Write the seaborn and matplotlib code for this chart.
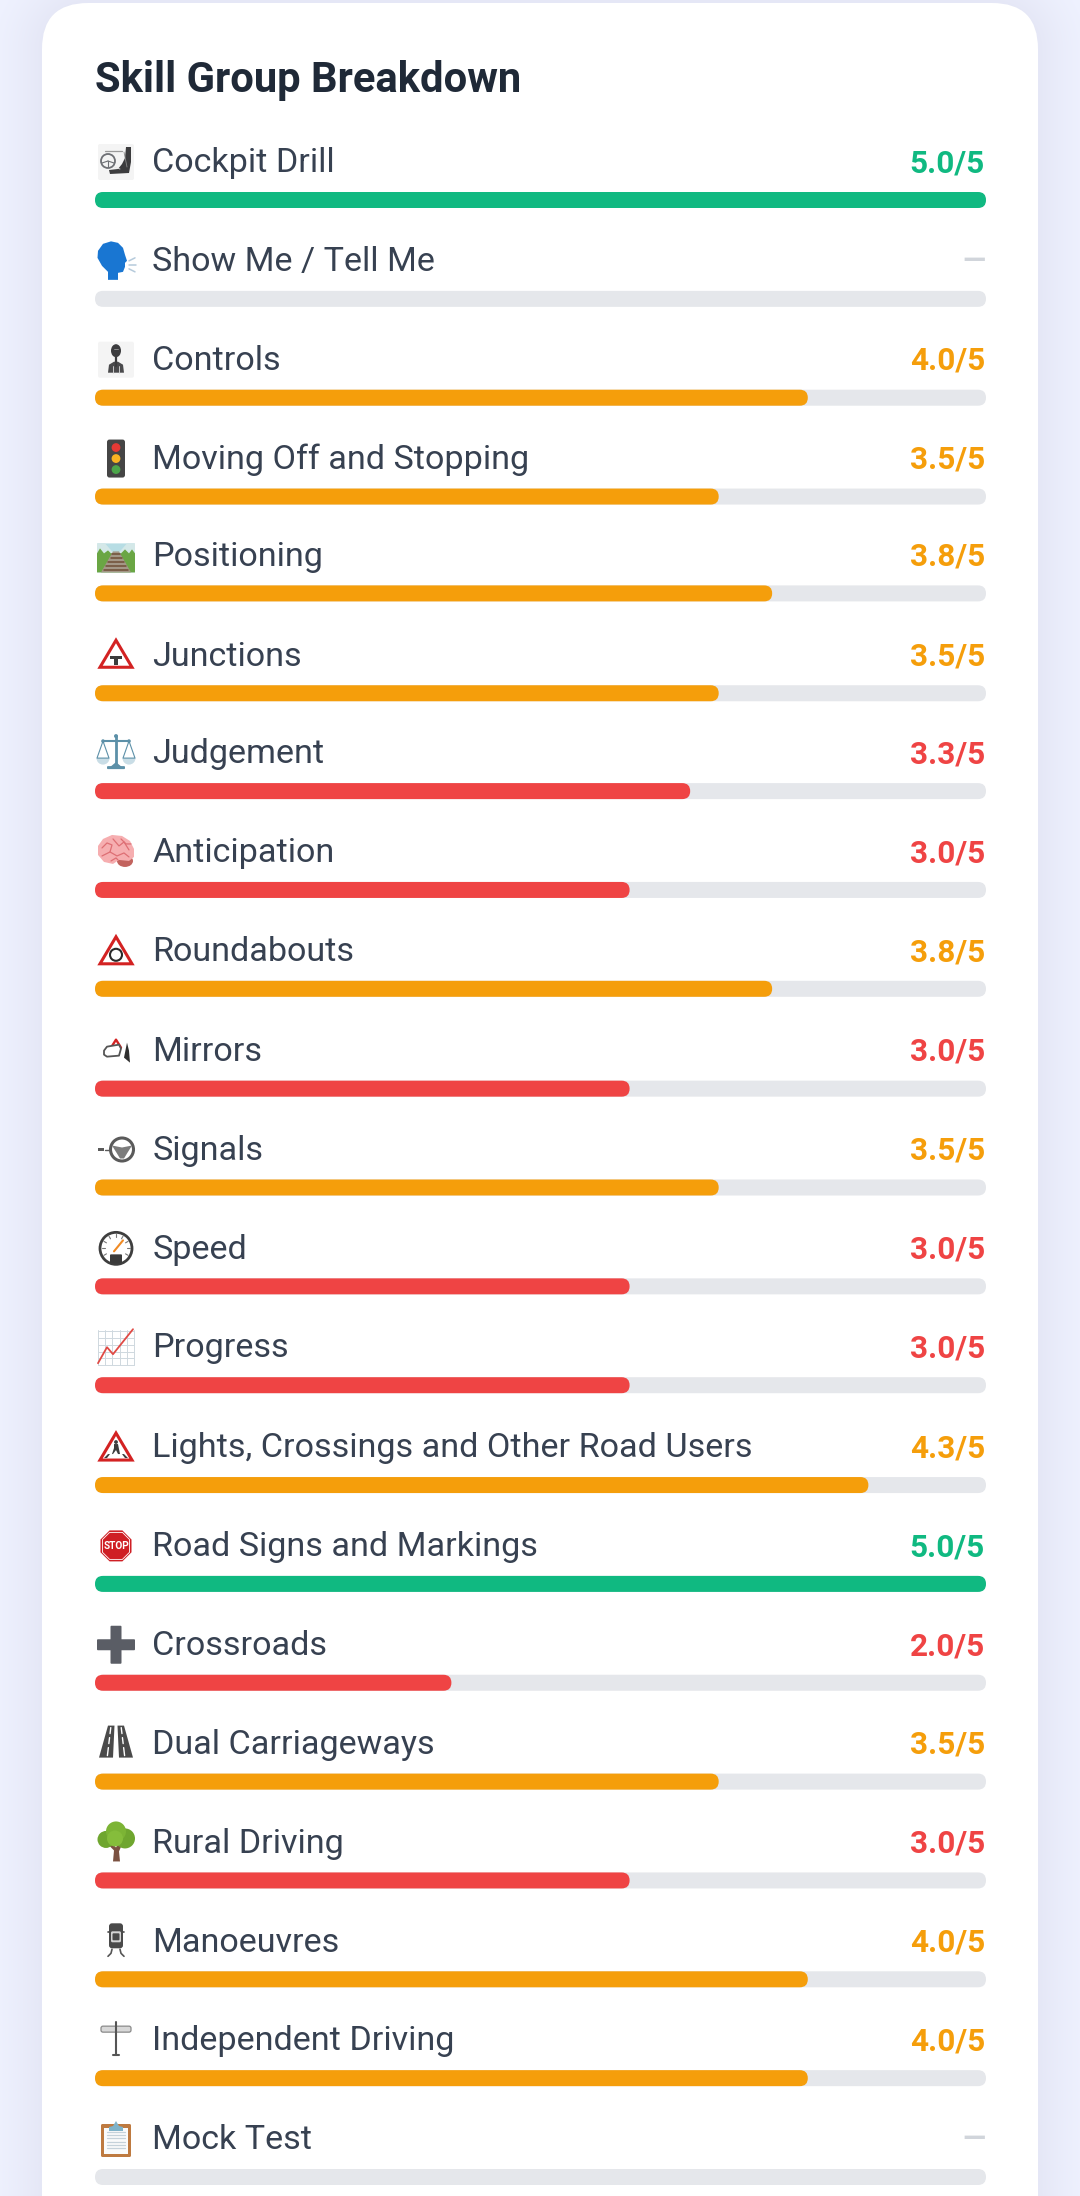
import numpy as np
import pandas as pd
import matplotlib
matplotlib.use("Agg")
import matplotlib.pyplot as plt
from matplotlib.patches import FancyBboxPatch, Polygon, Circle, Ellipse, Rectangle, Wedge
from matplotlib.transforms import Affine2D
import seaborn as sns

skills = ["Cockpit Drill", "Show Me / Tell Me", "Controls", "Moving Off and Stopping", "Positioning",
          "Junctions", "Judgement", "Anticipation", "Roundabouts", "Mirrors", "Signals", "Speed",
          "Progress", "Lights, Crossings and Other Road Users", "Road Signs and Markings", "Crossroads",
          "Dual Carriageways", "Rural Driving", "Manoeuvres", "Independent Driving", "Mock Test"]
scores = [5.0, None, 4.0, 3.5, 3.8, 3.5, 3.34, 3.0, 3.8, 3.0, 3.5, 3.0, 3.0, 4.34, 5.0, 2.0, 3.5, 3.0, 4.0, 4.0, None]
icons = ["cockpit", "head", "controls", "lights", "rail", "junction", "scales", "brain", "roundabout", "mirror",
         "signal", "speed", "progress", "crossing", "stop", "plus", "dual", "tree", "manoeuvre", "post", "clipboard"]
max_score = 5
title = "Skill Group Breakdown"
band_colors = {"high": "#10B981", "mid": "#F59E0B", "low": "#EF4444"}

W, H = 1080, 2196
TRACK, TITLE_C, LABEL_C, DASH_C = "#E5E7EB", "#1F2937", "#374151", "#D1D5DB"
L, R, Y0, Y1, BAR_H = 95, 986, 200, 2177, 16
CARD_L, CARD_R, CARD_T, CARD_RAD = 42, 1038, 3, 46
ROW_NUDGE = [0, 0, 0, 0, -2, -1, -2, -2, -2, -1, -1, -1, -1, 0, 0, 0, 0, 0, 0, 0, 0]


def band(s):
    if s is None or np.isnan(s):
        return None
    return "high" if s >= 4.5 else "mid" if s >= 3.5 else "low"


df = pd.DataFrame({"skill": skills, "score": pd.to_numeric(pd.Series(scores), errors="coerce")})
df["track"] = max_score
df["band"] = [band(s) for s in df["score"]]

sns.set_theme(style="white")
plt.rcParams["font.family"] = ["Roboto", "DejaVu Sans"]
fig = plt.figure(figsize=(W / 100, H / 100), dpi=100)

bg = fig.add_axes([0, 0, 1, 1], zorder=0)
bg.set_xlim(0, W); bg.set_ylim(H, 0); bg.axis("off")

# background with soft card shadow
yy, xx = np.mgrid[0:H, 0:W]
qx = np.maximum(np.maximum(CARD_L + CARD_RAD - xx, xx - (CARD_R - CARD_RAD)), 0)
qy = np.maximum(CARD_T + CARD_RAD - yy, 0)
dist = np.hypot(qx, qy) - CARD_RAD
t = np.clip(1 - np.clip(dist, 0, None) / 60, 0, 1) ** 1.5
c0, c1 = np.array([239, 242, 255]) / 255, np.array([229, 231, 246]) / 255
bg.imshow(c0 + (c1 - c0) * t[..., None], extent=(0, W, H, 0), aspect="auto", interpolation="nearest", zorder=0)
bg.set_xlim(0, W); bg.set_ylim(H, 0)
bg.add_patch(FancyBboxPatch((CARD_L + CARD_RAD, CARD_T + CARD_RAD), CARD_R - CARD_L - 2 * CARD_RAD, H,
                            boxstyle=f"round,pad={CARD_RAD},rounding_size={CARD_RAD}", fc="white", ec="none", zorder=1))

step = (Y1 - Y0) / (len(skills) - 1)
top, bottom = Y0 - step / 2, Y1 + step / 2
ax = fig.add_axes([L / W, 1 - bottom / H, (R - L) / W, (bottom - top) / H], zorder=2)
ax.patch.set_alpha(0)
bw = BAR_H / step
sns.barplot(data=df, y="skill", x="track", order=skills, color=TRACK, saturation=1, width=bw, ax=ax, zorder=1)
n_track = len(ax.patches)
sns.barplot(data=df.dropna(subset=["score"]), y="skill", x="score", order=skills, hue="band", palette=band_colors,
            saturation=1, width=bw, dodge=False, legend=False, ax=ax, zorder=2)
ax.set_xlim(0, max_score); ax.set_ylim(len(skills) - 0.5, -0.5)
ax.axis("off")

top_ax = fig.add_axes([0, 0, 1, 1], zorder=3)
top_ax.set_xlim(0, W); top_ax.set_ylim(H, 0); top_ax.axis("off")
fig.canvas.draw()
for i, b in enumerate(list(ax.patches)):
    if not b.get_width() or np.isnan(b.get_width()):
        b.remove(); continue
    row = int(round(b.get_y() + b.get_height() / 2))
    ext = b.get_window_extent()
    x0, x1 = ext.x0, ext.x1
    y0, y1 = H - ext.y1 + ROW_NUDGE[row], H - ext.y0 + ROW_NUDGE[row]
    r = (y1 - y0) / 2
    z = 1 if i < n_track else 2
    top_ax.add_patch(FancyBboxPatch((x0 + r, y0 + r), x1 - x0 - 2 * r, 0.001,
                                    boxstyle=f"round,pad={r},rounding_size={r}",
                                    fc=b.get_facecolor(), ec="none", zorder=z))
    b.set_visible(False)


def px(s):
    return s * 0.72


top_ax.text(95, 92.3, title, fontsize=px(41.8), fontweight="bold", color=TITLE_C, va="baseline", ha="left")


class Ic:
    """Small helper drawing a pictogram around a centre, in pixels."""
    def __init__(self, a, cx, cy):
        self.a, self.tr = a, Affine2D().translate(cx, cy) + a.transData
        self.cx, self.cy = cx, cy

    def add(self, p):
        p.set_transform(self.tr); p.set_zorder(5); self.a.add_patch(p); return p

    def poly(self, pts, c, ec="none", lw=0, fill=True, join="round"):
        return self.add(Polygon(pts, closed=True, fc=c if fill else "none", ec=ec, lw=lw, joinstyle=join))

    def circ(self, x, y, r, c="none", ec="none", lw=0):
        return self.add(Circle((x, y), r, fc=c, ec=ec, lw=lw))

    def ell(self, x, y, w, h, c="none", ec="none", lw=0, ang=0):
        return self.add(Ellipse((x, y), w, h, angle=ang, fc=c, ec=ec, lw=lw))

    def box(self, x0, y0, x1, y1, c, rad=0, ec="none", lw=0):
        if rad:
            return self.add(FancyBboxPatch((x0 + rad, y0 + rad), x1 - x0 - 2 * rad, y1 - y0 - 2 * rad,
                                           boxstyle=f"round,pad={rad},rounding_size={rad}", fc=c, ec=ec, lw=lw))
        return self.add(Rectangle((x0, y0), x1 - x0, y1 - y0, fc=c, ec=ec, lw=lw))

    def line(self, xs, ys, c, lw=1.0):
        l, = self.a.plot(xs, ys, color=c, lw=lw, transform=self.tr, zorder=6, solid_capstyle="round")
        return l

    def text(self, x, y, s, c, fs, **kw):
        self.a.text(self.cx + x, self.cy + y, s, color=c, fontsize=fs, ha="center", va="center", zorder=7, **kw)


DK, GR = "#3C3C3E", "#6E7075"


def warning(ic, dy=0):
    ic.poly([(0, -15 + dy), (16, 12 + dy), (-16, 12 + dy)], "white", ec="#D32222", lw=2.2, join="miter")


def draw_icon(kind, ic):
    if kind == "cockpit":
        ic.box(-18, -18, 18, 18, "#F4F4F4", rad=2)
        ic.circ(-8, -1, 7, ec=GR, lw=1.3)
        ic.line([-8, -14], [-1, 1], GR, .8); ic.line([-8, -2], [-1, 1], GR, .8); ic.line([-8, -8], [-1, 5], GR, .8)
        ic.line([-11, 6], [-11, -11], "#9A9A9A", .9)
        ic.poly([(10, -15), (15, -15), (15, 0), (13, 11), (-6, 12), (-7, 8), (2, 7), (6, 2), (9, -4)], DK)
        ic.line([-2, 4], [5, 7], "#E6E6E6", .6); ic.line([8, 11], [-10, 5], "#8A8A8A", .6)
    elif kind == "head":
        ic.poly([(-8, 19), (-8, 11), (-14, 5), (-18.5, -3), (-18, -10), (-13, -17), (-5, -19.5), (2, -18), (7, -13), (9, -6),
                 (11, 0), (9, 2), (9, 6), (7, 11), (2, 12), (2, 19)], "#1976D2")
        for (a, b) in [((13, 0), (19, -3)), ((13, 4), (20, 4)), ((13, 8), (19, 11))]:
            ic.line([a[0], b[0]], [a[1], b[1]], "#B5CADB", 1.1)
    elif kind == "controls":
        ic.box(-18, -18, 18, 18, "#F4F4F4", rad=2)
        ic.ell(0, -9, 10, 13, DK)
        ic.line([-2, 2], [-11, -11], "#9A9A9A", .6)
        ic.line([0, 0], [-3, 6], DK, 1.6)
        ic.poly([(-8, 13), (-7, 5), (-2, 2), (2, 2), (7, 5), (8, 13)], "#4A4A4C")
        ic.line([-3, -3], [6, 13], "#DDDDDD", .6); ic.line([3, 3], [6, 13], "#DDDDDD", .6)
    elif kind == "lights":
        ic.box(-9, -19, 9, 19, "#454545", rad=2.5)
        ic.circ(0, -11, 4.4, "#E53935"); ic.circ(0, 0, 4.4, "#F9B322"); ic.circ(0, 11, 4.4, "#4CA64A")
    elif kind == "rail":
        ic.box(-19, -15, 19, 14, "#B7DDE4", rad=1)
        ic.poly([(-19, -15), (-11, -15), (-3, -6), (3, -6), (11, -15), (19, -15), (19, 14), (-19, 14)], "#D4E8E8")
        ic.poly([(-19, -5), (-16, -10), (-12, -5), (-8, -8), (-5, -5), (5, -5), (9, -9), (13, -5), (16, -9), (19, -5),
                 (19, 14), (-19, 14)], "#6AA644")
        ic.poly([(-3, -7), (3, -7), (15, 14), (-15, 14)], "#A39787")
        for y, w in [(-4, 4), (0, 5.5), (4, 8), (8, 10), (12, 12)]:
            ic.line([-w, w], [y, y], "#6F4E37", 1.1)
    elif kind == "junction":
        warning(ic)
        ic.box(-6, 1, 6, 4, "#3C3C3C"); ic.box(-2, 3, 2, 10, "#3C3C3C")
    elif kind == "scales":
        T = "#5C90A8"
        ic.line([0, 0], [-17, 11], T, 2.0)
        ic.line([-13, 13], [-12, -12], T, 1.5)
        ic.circ(0, -17, 2, T); ic.circ(-13, -12, 1.8, T); ic.circ(13, -12, 1.8, T)
        ic.poly([(-6, 14), (0, 9), (6, 14)], T)
        ic.box(-9, 13, 9, 16, T, rad=1)
        for sx in (-13, 13):
            ic.line([sx, sx - 6, sx + 6, sx], [-12, 5, 5, -12], T, .8)
            ic.add(Wedge((sx, 5), 6.5, 0, 180, fc="#C9DDE6", ec="none"))
    elif kind == "brain":
        ic.ell(9, 9, 16, 12, "#C2635E")
        ic.poly([(-18, 3), (-18, -6), (-13, -13), (-4, -17), (6, -16), (14, -11), (18, -3), (18, 5), (13, 9), (3, 8),
                 (-3, 12), (-12, 10)], "#F6AEB0")
        for xs, ys_ in [([-14, -9, -4, -6], [-4, -9, -7, 0]), ([-3, 3, 8, 13], [-13, -6, -10, -2]),
                        ([-14, -6, 1, 8, 13], [4, 0, 4, 1, 5]), ([-5, 0, 2], [9, 6, 8]), ([5, 10, 15], [-13, -8, -8])]:
            ic.line(xs, ys_, "#DE6F74", .9)
    elif kind == "roundabout":
        warning(ic, dy=1)
        ic.circ(0, 4, 6, ec="#2A2A2A", lw=1.5)
    elif kind == "mirror":
        ic.poly([(-5, -3), (0, -11), (5, -3)], "none", ec="#D32222", lw=1.7, fill=False)
        ic.poly([(-12, 0), (-9, -4), (3, -6), (5, -2), (3, 5), (-9, 6), (-12, 4)], "white", ec="#555555", lw=1.3)
        ic.poly([(8, 7), (11, -8), (13, 0), (14, 12)], "#2E2E2E")
    elif kind == "signal":
        ic.circ(6, 0, 11.5, "white", ec="#5A5A5A", lw=2.2)
        ic.poly([(-4, -4), (6, -2), (16, -4), (11, 4), (8, 9), (4, 9), (1, 4)], "#7C7C7C")
        ic.box(-18, -2, -12, 1.5, "#5A5A5A"); ic.line([-11, -6], [0, 0], "#5A5A5A", 1.0)
    elif kind == "speed":
        ic.circ(0, 0, 16, "white", ec="#3E3E3E", lw=2.0)
        for a in np.deg2rad([150, 180, 210, 240, 270, 300, 330, 360, 390]):
            ic.line([11 * np.cos(a), 14 * np.cos(a)], [11 * np.sin(a), 14 * np.sin(a)], "#777777", .8)
        ic.line([-2, 7], [3, -8], "#F08A24", 1.5)
        ic.box(-6, 6, 6, 15, "#3A3A3A", rad=1)
    elif kind == "progress":
        ic.box(-18, -18, 18, 17, "white")
        for g in np.linspace(-18, 18, 6):
            ic.line([g, g], [-18, 17], "#CFD8DF", .7)
        for g in np.linspace(-17, 17, 6):
            ic.line([-18, 18], [g, g], "#CFD8DF", .7)
        ic.line([-18, -9, -3, 17], [15, -1, 6, -19], "#E04A45", 1.3)
    elif kind == "crossing":
        warning(ic, dy=1)
        ic.circ(0, -5, 1.9, "#3C3C3C")
        ic.poly([(-2, -3), (2, -3), (3, 2), (4, 7), (2, 7), (0, 3), (-3, 7), (-4, 7), (-2, 1)], "#3C3C3C")
        ic.poly([(-12, 11), (-8, 7), (-6, 7), (-9, 11)], "#3C3C3C")
        ic.poly([(12, 11), (8, 7), (6, 7), (9, 11)], "#3C3C3C")
    elif kind == "stop":
        a = 15.5; b = 6.4
        ic.poly([(-b, -a), (b, -a), (a, -b), (a, b), (b, a), (-b, a), (-a, b), (-a, -b)], "#CF1F25")
        ic.poly([(-b, -a + 2), (b, -a + 2), (a - 2, -b), (a - 2, b), (b, a - 2), (-b, a - 2), (-a + 2, b), (-a + 2, -b)],
                "none", ec="white", lw=.6, fill=False)
        ic.text(0, .3, "STOP", "white", 7.2, fontweight="bold", stretch="condensed")
    elif kind == "plus":
        G = "#5A5D65"
        ic.box(-5.5, -19, 5.5, 19, G, rad=1); ic.box(-19, -5.5, 19, 5.5, G, rad=1)
    elif kind == "dual":
        ic.poly([(-8, -18), (-1.5, -18), (-3, 14), (-17, 14)], "#4A4A4A")
        ic.poly([(8, -18), (1.5, -18), (3, 14), (17, 14)], "#4A4A4A")
        for s in (-1, 1):
            for y0_, y1_ in [(-16, -10), (-6, 0), (4, 12)]:
                ic.line([s * (5 + (y0_ + 18) * .12), s * (5 + (y1_ + 18) * .12)], [y0_, y1_], "white", 1.0)
    elif kind == "tree":
        ic.poly([(-3, 19), (-2, 8), (-8, 2), (-3, 2), (0, 5), (3, 0), (6, 2), (3, 9), (4, 19)], "#7B5141")
        ic.circ(-10, -3, 8.5, "#6FA62F"); ic.circ(9, -4, 10, "#6FA62F"); ic.circ(0, -11, 10, "#7CB435")
        ic.circ(-1, -4, 8, "#85BD3B")
    elif kind == "manoeuvre":
        ic.box(-7, -18, 7, 7, "#4A4A4A", rad=3)
        ic.box(-5, -10, 5, 1, "#D5D5D5", rad=1.5)
        ic.box(-3.5, -8, 3.5, -1, "#4A4A4A", rad=1)
        ic.line([-8, -7], [-9, -9], "#4A4A4A", 1.2); ic.line([7, 8], [-9, -9], "#4A4A4A", 1.2)
        ic.line([-4, -5, -8], [8, 12, 15], "#555555", 1.2); ic.line([4, 5, 8], [8, 12, 15], "#555555", 1.2)
    elif kind == "post":
        ic.box(-15, -14, 15, -8, "#D8D8D8", rad=2, ec="#8A8A8A", lw=.9)
        ic.line([0, 0], [-18, 15], "#555555", 1.5); ic.line([-3, 3], [15, 15], "#555555", 1.5)
    elif kind == "clipboard":
        ic.box(-15, -15, 15, 18, "#BE7A40", rad=1.5)
        ic.box(-12, -11, 12, 15, "#FAFBFB")
        for y in np.arange(-7, 12, 3.2):
            ic.line([-9, 9], [y, y], "#C5D2DA", .9)
        ic.poly([(-7, -12), (-3, -13), (0, -18), (3, -13), (7, -12), (7, -8), (-7, -8)], "#7FB3C9")


ICON_DY = {"rail": 3, "progress": 1, "stop": 0}
ys = ax.transData.transform(np.c_[np.zeros(len(skills)), np.arange(len(skills))])[:, 1]
for i, (skill, score, b, kind) in enumerate(zip(df.skill, df.score, df.band, icons)):
    yb = H - ys[i] + ROW_NUDGE[i]
    base = yb - 27.7
    top_ax.text(152.3, base, skill, fontsize=px(34.1), color=LABEL_C, va="baseline", ha="left", zorder=5)
    if b:
        top_ax.text(985, base, f"{score:.1f}/{max_score}", fontsize=px(31.5), fontweight="bold",
                    color=band_colors[b], va="baseline", ha="right", zorder=5)
    else:
        top_ax.text(985.5, base - 1, "—", fontsize=px(30), color=DASH_C, fontweight="bold", va="baseline", ha="right", zorder=5)
    draw_icon(kind, Ic(top_ax, 116, yb - 38 + ICON_DY.get(kind, 0)))

top_ax.set_xlim(0, W); top_ax.set_ylim(H, 0)
fig.savefig("out.png", dpi=100)
